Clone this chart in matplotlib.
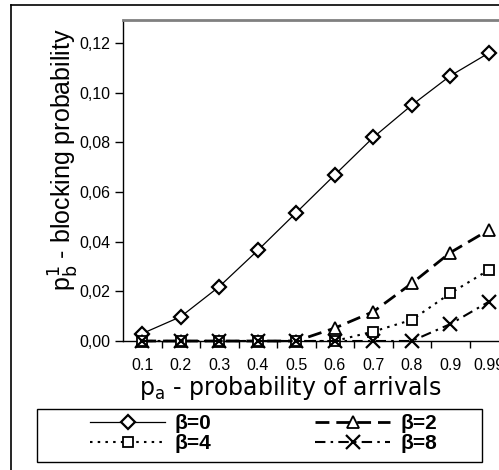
import matplotlib
matplotlib.use("Agg")
import matplotlib.pyplot as plt
from matplotlib.lines import Line2D
from matplotlib.patches import Rectangle

plt.rcParams['font.family'] = ['Liberation Sans', 'DejaVu Sans']

categories = ["0.1", "0.2", "0.3", "0.4", "0.5", "0.6", "0.7", "0.8", "0.9", "0.99"]
beta0 = [0.003, 0.0098, 0.0219, 0.0365, 0.0517, 0.0669, 0.0820, 0.0950, 0.1068, 0.1160]
beta2 = [0.0, 0.0, 0.0, 0.0, 0.0, 0.0052, 0.0118, 0.0232, 0.0356, 0.0447]
beta4 = [0.0, 0.0, 0.0, 0.0, 0.0, 0.0, 0.0038, 0.0085, 0.0192, 0.0286]
beta8 = [0.0, 0.0, 0.0, 0.0, 0.0, 0.0, 0.0, 0.0, 0.0068, 0.0158]
yticks = [0.0, 0.02, 0.04, 0.06, 0.08, 0.10, 0.12]
ytick_labels = ["0,00", "0,02", "0,04", "0,06", "0,08", "0,10", "0,12"]

W, H = 499, 470
fig = plt.figure(figsize=(W / 100, H / 100), dpi=100)

ax_left, ax_right, ax_top, ax_bot = 123, 508, 20, 341
ax = fig.add_axes([ax_left / W, 1 - ax_bot / H, (ax_right - ax_left) / W, (ax_bot - ax_top) / H])

x = list(range(len(categories)))
mfc = 'white'
l0, = ax.plot(x, beta0, color='black', lw=0.9, marker='D', ms=7.5, mfc=mfc, mec='black', mew=1.6,
              label='β=0', clip_on=False, zorder=3)
l2, = ax.plot(x, beta2, color='black', lw=2.0, dashes=(5, 2.5), marker='^', ms=9, mfc=mfc, mec='black', mew=1.3,
              label='β=2', clip_on=False, zorder=3)
l4, = ax.plot(x, beta4, color='black', lw=1.5, dashes=(1.2, 2.5), marker='s', ms=7.5, mfc=mfc, mec='black', mew=1.3,
              label='β=4', clip_on=False, zorder=3)
l8, = ax.plot(x, beta8, color='black', lw=1.5, dashes=(5, 2.5, 1.2, 2.5), marker='x', ms=10, mec='black', mew=1.6,
              label='β=8', clip_on=False, zorder=4)

ax.set_xlim(-0.5, len(categories) - 0.5)
ax.set_ylim(0, 0.1293)
ax.set_yticks(yticks)
ax.set_yticklabels(ytick_labels)
ax.set_xticks(x)
ax.set_xticklabels(categories)
ax.set_xticks([i + 0.5 for i in range(len(categories) - 1)], minor=True)
ax.tick_params(axis='x', which='major', length=0, labelsize=11.5, pad=12)
ax.tick_params(axis='x', which='minor', length=5, width=1, direction='out')
ax.tick_params(axis='y', length=6, width=1, direction='out', labelsize=11.5, pad=3)

ax.spines['right'].set_visible(False)
ax.spines['top'].set_color('#808080')
ax.spines['top'].set_linewidth(2)
ax.spines['left'].set_linewidth(1)
ax.spines['bottom'].set_linewidth(1)

fig.text(290 / W, 1 - 388 / H, r'p$_{\mathrm{a}}$ - probability of arrivals', ha='center', va='center',
         fontsize=17, family='DejaVu Sans')
fig.text(64 / W, 1 - 160 / H, r'p$^{\mathrm{1}}_{\mathrm{b}}$ - blocking probability', ha='center', va='center',
         rotation=90, fontsize=18)

# outer chart border
fig.add_artist(Line2D([11 / W, 11 / W], [0, 1 - 5 / H], color='black', lw=1.2, transform=fig.transFigure))
fig.add_artist(Line2D([11 / W, 1], [1 - 5 / H, 1 - 5 / H], color='black', lw=1.2, transform=fig.transFigure))

# legend frame
fig.add_artist(Rectangle((37 / W, 1 - 462 / H), 445 / W, 53 / H, transform=fig.transFigure,
                         fill=True, facecolor='white', edgecolor='black', lw=1, zorder=5))

common = dict(prop={'weight': 'bold', 'size': 15}, handlelength=3.6, handletextpad=0.48,
              labelspacing=0.05, borderaxespad=0, borderpad=0, frameon=False, loc='upper left')
leg1 = fig.legend(handles=[l0, l4], bbox_to_anchor=(90 / W, 1 - 414 / H), **common)
leg2 = fig.legend(handles=[l2, l8], bbox_to_anchor=(315 / W, 1 - 414 / H), **common)
leg1.set_zorder(6)
leg2.set_zorder(6)

fig.savefig('out.png', dpi=100)
